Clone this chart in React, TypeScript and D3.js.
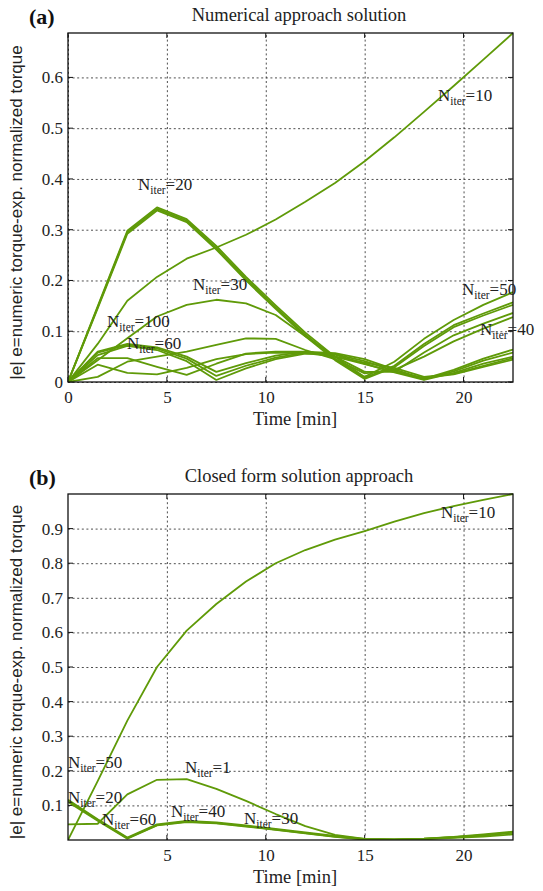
import React, { useEffect, useRef } from 'react'
import * as d3 from 'd3'

const W = 543
const H = 891
const green = '#5f9a08'
const serif = '"Liberation Serif", "Times New Roman", serif'
const sans = '"Liberation Sans", Arial, sans-serif'

// time axis (min), shared by both panels
const times = [0, 1.5, 3, 4.5, 6, 7.5, 9, 10.5, 12, 13.5, 15, 16.5, 18, 19.5, 21, 22.5]

// (a) numerical approach
const a10 = [0, 0.075, 0.16, 0.207, 0.243, 0.265, 0.29, 0.32, 0.355, 0.392, 0.435, 0.482, 0.532, 0.583, 0.635, 0.6875]
const a20a = [0, 0.149, 0.298, 0.344, 0.321, 0.268, 0.207, 0.151, 0.097, 0.05, 0.01, 0.04, 0.085, 0.122, 0.152, 0.177]
const a20b = [0, 0.147, 0.295, 0.341, 0.318, 0.264, 0.203, 0.147, 0.093, 0.046, 0.008, 0.032, 0.075, 0.112, 0.135, 0.157]
const a20c = [0, 0.145, 0.292, 0.338, 0.315, 0.261, 0.2, 0.144, 0.09, 0.043, 0.006, 0.029, 0.071, 0.108, 0.131, 0.152]
const a30 = [0, 0.043, 0.086, 0.129, 0.152, 0.162, 0.155, 0.132, 0.09, 0.05, 0.02, 0.02, 0.058, 0.092, 0.115, 0.136]
const aF = [0, 0.01, 0.04, 0.05, 0.06, 0.073, 0.086, 0.085, 0.063, 0.045, 0.017, 0.024, 0.05, 0.08, 0.105, 0.128]
const a100a = [0, 0.06, 0.075, 0.068, 0.05, 0.02, 0.037, 0.052, 0.06, 0.057, 0.045, 0.025, 0.006, 0.024, 0.046, 0.064]
const a100b = [0, 0.058, 0.073, 0.066, 0.046, 0.012, 0.032, 0.048, 0.058, 0.055, 0.041, 0.022, 0.005, 0.021, 0.042, 0.058]
const a60 = [0, 0.053, 0.071, 0.063, 0.041, 0.004, 0.027, 0.045, 0.056, 0.054, 0.036, 0.019, 0.004, 0.018, 0.036, 0.05]
const a40 = [0, 0.047, 0.047, 0.03, 0.014, 0.036, 0.056, 0.06, 0.06, 0.05, 0.038, 0.028, 0.01, 0.016, 0.032, 0.047]
const a50 = [0, 0.034, 0.018, 0.015, 0.028, 0.045, 0.055, 0.058, 0.057, 0.05, 0.035, 0.02, 0.008, 0.015, 0.03, 0.044]

// (b) closed form
const b10 = [0, 0.17, 0.345, 0.5, 0.605, 0.682, 0.747, 0.8, 0.838, 0.868, 0.893, 0.92, 0.945, 0.965, 0.983, 1.0]
const b1 = [0.045, 0.047, 0.132, 0.174, 0.176, 0.148, 0.113, 0.075, 0.04, 0.015, 0.003, 0.002, 0.004, 0.008, 0.013, 0.021]
const b20 = [0.116, 0.06, 0.007, 0.045, 0.055, 0.051, 0.042, 0.032, 0.022, 0.012, 0.003, 0.002, 0.004, 0.009, 0.016, 0.024]
const b40 = [0.113, 0.058, 0.005, 0.043, 0.053, 0.049, 0.04, 0.03, 0.02, 0.01, 0.002, 0.001, 0.003, 0.008, 0.014, 0.022]
const b60 = [0.11, 0.056, 0.004, 0.042, 0.052, 0.048, 0.039, 0.029, 0.019, 0.009, 0.001, 0.001, 0.002, 0.006, 0.01, 0.016]

const xTicksA = [0, 5, 10, 15, 20]
const yTicksA = [0, 0.1, 0.2, 0.3, 0.4, 0.5, 0.6]
const xTicksB = [5, 10, 15, 20]
const yTicksB = [0.1, 0.2, 0.3, 0.4, 0.5, 0.6, 0.7, 0.8, 0.9]

const labelsA = ['10', '20', '30', '100', '60', '50', '40']
const labelsB = ['10', '1', '50', '20', '60', '40', '30']

const panels = [
  {
    tag: '(a)', title: 'Numerical approach solution',
    left: 68, right: 513, top: 33, bottom: 382, yMax: 0.6875,
    xTicks: xTicksA, yTicks: yTicksA,
    series: [a10, a20a, a20b, a20c, a30, aF, a100a, a100b, a60, a40, a50],
    labels: labelsA,
    labelPos: [[438, 101], [138, 190], [193, 290], [107, 327], [127, 349], [462, 295], [480, 335]],
  },
  {
    tag: '(b)', title: 'Closed form solution approach',
    left: 68, right: 513, top: 494, bottom: 840, yMax: 1.0,
    xTicks: xTicksB, yTicks: yTicksB,
    series: [b10, b1, b20, b40, b60],
    labels: labelsB,
    labelPos: [[441, 518], [185, 773], [68, 768], [68, 803], [102, 825], [171, 817], [244, 824]],
  },
]

export default function App() {
  const node = useRef<SVGSVGElement>(null)

  useEffect(() => {
    const svg = d3.select(node.current)
    svg.selectAll('*').remove()

    panels.forEach((p, pi) => {
      const x = d3.scaleLinear().domain([0, 22.5]).range([p.left, p.right])
      const y = d3.scaleLinear().domain([0, p.yMax]).range([p.bottom, p.top])
      const g = svg.append('g')
      const w = p.right - p.left
      const h = p.bottom - p.top

      // grid + tick labels via axes
      g.append('g')
        .attr('transform', `translate(0,${p.bottom})`)
        .call(d3.axisBottom(x).tickValues(p.xTicks).tickSize(-h).tickPadding(8.5).tickFormat(d3.format('d')))
        .call(a => a.select('.domain').remove())
        .call(a => a.selectAll('.tick line')
          .attr('stroke', '#222').attr('stroke-width', 0.8).attr('stroke-dasharray', '2,2.6'))
        .call(a => a.selectAll('.tick text')
          .attr('fill', '#222').style('font-family', serif).style('font-size', '17px'))
        .attr('font-size', null).attr('font-family', null)

      g.append('g')
        .attr('transform', `translate(${p.left},0)`)
        .call(d3.axisLeft(y).tickValues(p.yTicks).tickSize(-w).tickPadding(5).tickFormat(d => d === 0 ? '0' : d3.format('.1f')(d as number)))
        .call(a => a.select('.domain').remove())
        .call(a => a.selectAll('.tick line')
          .attr('stroke', '#222').attr('stroke-width', 0.8).attr('stroke-dasharray', '2,2.6'))
        .call(a => a.selectAll('.tick text')
          .attr('fill', '#222').style('font-family', serif).style('font-size', '17px'))
        .attr('font-size', null).attr('font-family', null)

      // short solid inward ticks on all four sides
      const tk = g.append('g').attr('stroke', '#111').attr('stroke-width', 1)
      p.xTicks.forEach(t => {
        tk.append('line').attr('x1', x(t)).attr('x2', x(t)).attr('y1', p.bottom).attr('y2', p.bottom - 5)
        tk.append('line').attr('x1', x(t)).attr('x2', x(t)).attr('y1', p.top).attr('y2', p.top + 5)
      })
      p.yTicks.forEach(t => {
        tk.append('line').attr('x1', p.left).attr('x2', p.left + 5).attr('y1', y(t)).attr('y2', y(t))
        tk.append('line').attr('x1', p.right).attr('x2', p.right - 5).attr('y1', y(t)).attr('y2', y(t))
      })

      // lines
      const clipId = `clip${pi}`
      g.append('clipPath').attr('id', clipId)
        .append('rect').attr('x', p.left).attr('y', p.top - 1).attr('width', w).attr('height', h + 1)
      const line = d3.line<number>().x((_, i) => x(times[i])).y(d => y(d))
      g.append('g').attr('clip-path', `url(#${clipId})`)
        .selectAll('path').data(p.series).join('path')
        .attr('d', d => line(d))
        .attr('fill', 'none').attr('stroke', green).attr('stroke-width', 1.8)
        .attr('stroke-linejoin', 'round')

      // frame
      g.append('rect').attr('x', p.left).attr('y', p.top).attr('width', w).attr('height', h)
        .attr('fill', 'none').attr('stroke', '#111').attr('stroke-width', 1.3)

      // series labels
      p.labels.forEach((n, i) => {
        const [lx, ly] = p.labelPos[i]
        const t = g.append('text').attr('x', lx).attr('y', ly)
          .style('font-family', serif).attr('fill', '#222').style('font-size', '17px')
        t.append('tspan').text('N')
        t.append('tspan').attr('dy', 4).style('font-size', '11.5px').text('iter')
        t.append('tspan').attr('dy', -4).text('=' + n)
      })

      // titles and axis labels
      g.append('text').attr('x', 29).attr('y', p.top - 9)
        .style('font-family', serif).style('font-size', '22px').style('font-weight', 'bold')
        .attr('fill', '#111').text(p.tag)
      g.append('text').attr('x', 299).attr('y', p.top - 12).attr('text-anchor', 'middle')
        .style('font-family', serif).style('font-size', '18.5px').attr('fill', '#222').text(p.title)
      g.append('text').attr('x', 295).attr('y', p.bottom + 43).attr('text-anchor', 'middle')
        .style('font-family', serif).style('font-size', '18.5px').attr('fill', '#222').text('Time [min]')
      g.append('text')
        .attr('transform', `translate(22,${(p.top + p.bottom) / 2 + 5}) rotate(-90)`)
        .attr('text-anchor', 'middle')
        .style('font-family', sans).style('font-size', '17px').attr('fill', '#222')
        .text('|e| e=numeric torque-exp. normalized torque')
    })
  }, [])

  return (
    <svg ref={node} width={W} height={H} viewBox={`0 0 ${W} ${H}`}
      style={{ position: 'absolute', left: 0, top: 0, background: '#fff' }} />
  )
}
